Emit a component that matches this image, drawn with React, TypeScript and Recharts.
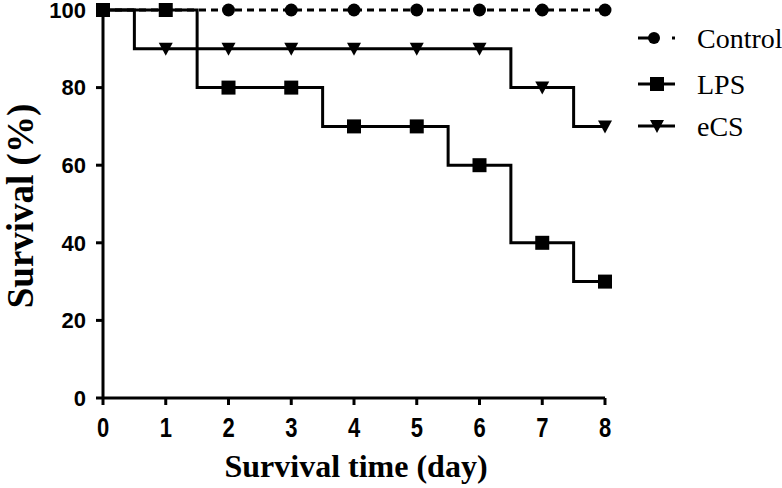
import { LineChart, Line, XAxis, YAxis, Label } from "recharts";

// step-curve sample times (days); markers sit on whole days only
const times = [0, 0.5, 1, 1.5, 2, 2.5, 3, 3.5, 4, 4.5, 5, 5.5, 6, 6.5, 7, 7.5, 8];
const control = [100, 100, 100, 100, 100, 100, 100, 100, 100, 100, 100, 100, 100, 100, 100, 100, 100];
const lps = [100, 100, 100, 80, 80, 80, 80, 70, 70, 70, 70, 60, 60, 40, 40, 30, 30];
const ecs = [100, 90, 90, 90, 90, 90, 90, 90, 90, 90, 90, 90, 90, 80, 80, 70, 70];
const xTicks = [0, 1, 2, 3, 4, 5, 6, 7, 8];
const yTicks = [0, 20, 40, 60, 80, 100];

const data = times.map((t, i) => ({ t, control: control[i], lps: lps[i], ecs: ecs[i] }));

const sansBold = "'Liberation Sans', Arial, sans-serif";
const serif = "'Liberation Serif', 'Times New Roman', serif";
const tickFont = { fill: "#000", fontSize: 22, fontWeight: 700, fontFamily: sansBold };

type Shape = "circle" | "square" | "tri";

function marker(shape: Shape, cx: number, cy: number, key?: any) {
  if (shape === "circle") return <circle key={key} cx={cx} cy={cy} r={6.5} fill="#000" />;
  if (shape === "square") return <rect key={key} x={cx - 7} y={cy - 7} width={14} height={14} fill="#000" />;
  return <path key={key} d={`M${cx - 7},${cy - 6} L${cx + 7},${cy - 6} L${cx},${cy + 7} Z`} fill="#000" />;
}

const dotFor = (shape: Shape) => (p: any) => {
  if (!Number.isInteger(p.payload?.t)) return <g key={p.key ?? p.index} />;
  return marker(shape, p.cx, p.cy, p.key ?? p.index);
};

const series: { key: string; name: string; shape: Shape; dash?: string }[] = [
  { key: "control", name: "Control", shape: "circle", dash: "7 5" },
  { key: "lps", name: "LPS", shape: "square" },
  { key: "ecs", name: "eCS", shape: "tri" },
];

const legendRows = [38, 84, 126];

function LegendBox() {
  return (
    <svg width={152} height={150} style={{ position: "absolute", left: 630, top: 0 }}>
      {series.map((s, i) => {
        const y = legendRows[i];
        return (
          <g key={s.key}>
            {s.dash ? (
              <>
                <line x1={8} x2={20} y1={y} y2={y} stroke="#000" strokeWidth={3} />
                <line x1={42} x2={45} y1={y} y2={y} stroke="#000" strokeWidth={3} />
                <circle cx={24} cy={y} r={6} fill="#000" />
              </>
            ) : (
              <>
                <line x1={8} x2={45} y1={y} y2={y} stroke="#000" strokeWidth={3} />
                {marker(s.shape, 27, y)}
              </>
            )}
            <text x={67} y={y + 10} fontSize={28} fontFamily={serif} fill="#000">
              {s.name}
            </text>
          </g>
        );
      })}
    </svg>
  );
}

function XTick(props: any) {
  const { x, payload } = props;
  return (
    <text transform={`translate(${x}, 437) scale(1, 1.25)`} textAnchor="middle" {...tickFont}>
      {payload.value}
    </text>
  );
}

export default function App() {
  return (
    <div style={{ position: "absolute", left: 0, top: 0, width: 782, height: 488, background: "#fff", overflow: "hidden" }}>
      <LineChart width={782} height={488} data={data} margin={{ top: 10, right: 177, left: 0, bottom: 0 }}>
        <XAxis
          dataKey="t"
          type="number"
          domain={[0, 8]}
          ticks={xTicks}
          interval={0}
          height={90}
          tick={<XTick />}
          tickSize={7}
          axisLine={{ stroke: "#000", strokeWidth: 3 }}
          tickLine={{ stroke: "#000", strokeWidth: 3 }}
        >
          <Label
            content={() => (
              <text x={356} y={477} textAnchor="middle" fill="#000" fontSize={32} fontWeight={700} fontFamily={serif}>
                Survival time (day)
              </text>
            )}
          />
        </XAxis>
        <YAxis
          type="number"
          domain={[0, 100]}
          ticks={yTicks}
          interval={0}
          width={103}
          tick={tickFont}
          tickSize={7}
          tickMargin={10}
          axisLine={{ stroke: "#000", strokeWidth: 3 }}
          tickLine={{ stroke: "#000", strokeWidth: 3 }}
        >
          <Label
            content={() => (
              <text
                x={0}
                y={0}
                transform="translate(33, 206) rotate(-90)"
                textAnchor="middle"
                fill="#000"
                fontSize={37}
                fontWeight={700}
                fontFamily={serif}
              >
                Survival (%)
              </text>
            )}
          />
        </YAxis>
        {series.map((s) => (
          <Line
            key={s.key}
            dataKey={s.key}
            name={s.name}
            type="stepAfter"
            stroke="#000"
            strokeWidth={3}
            strokeDasharray={s.dash}
            dot={dotFor(s.shape)}
            activeDot={false}
            isAnimationActive={false}
          />
        ))}
      </LineChart>
      <LegendBox />
    </div>
  );
}
